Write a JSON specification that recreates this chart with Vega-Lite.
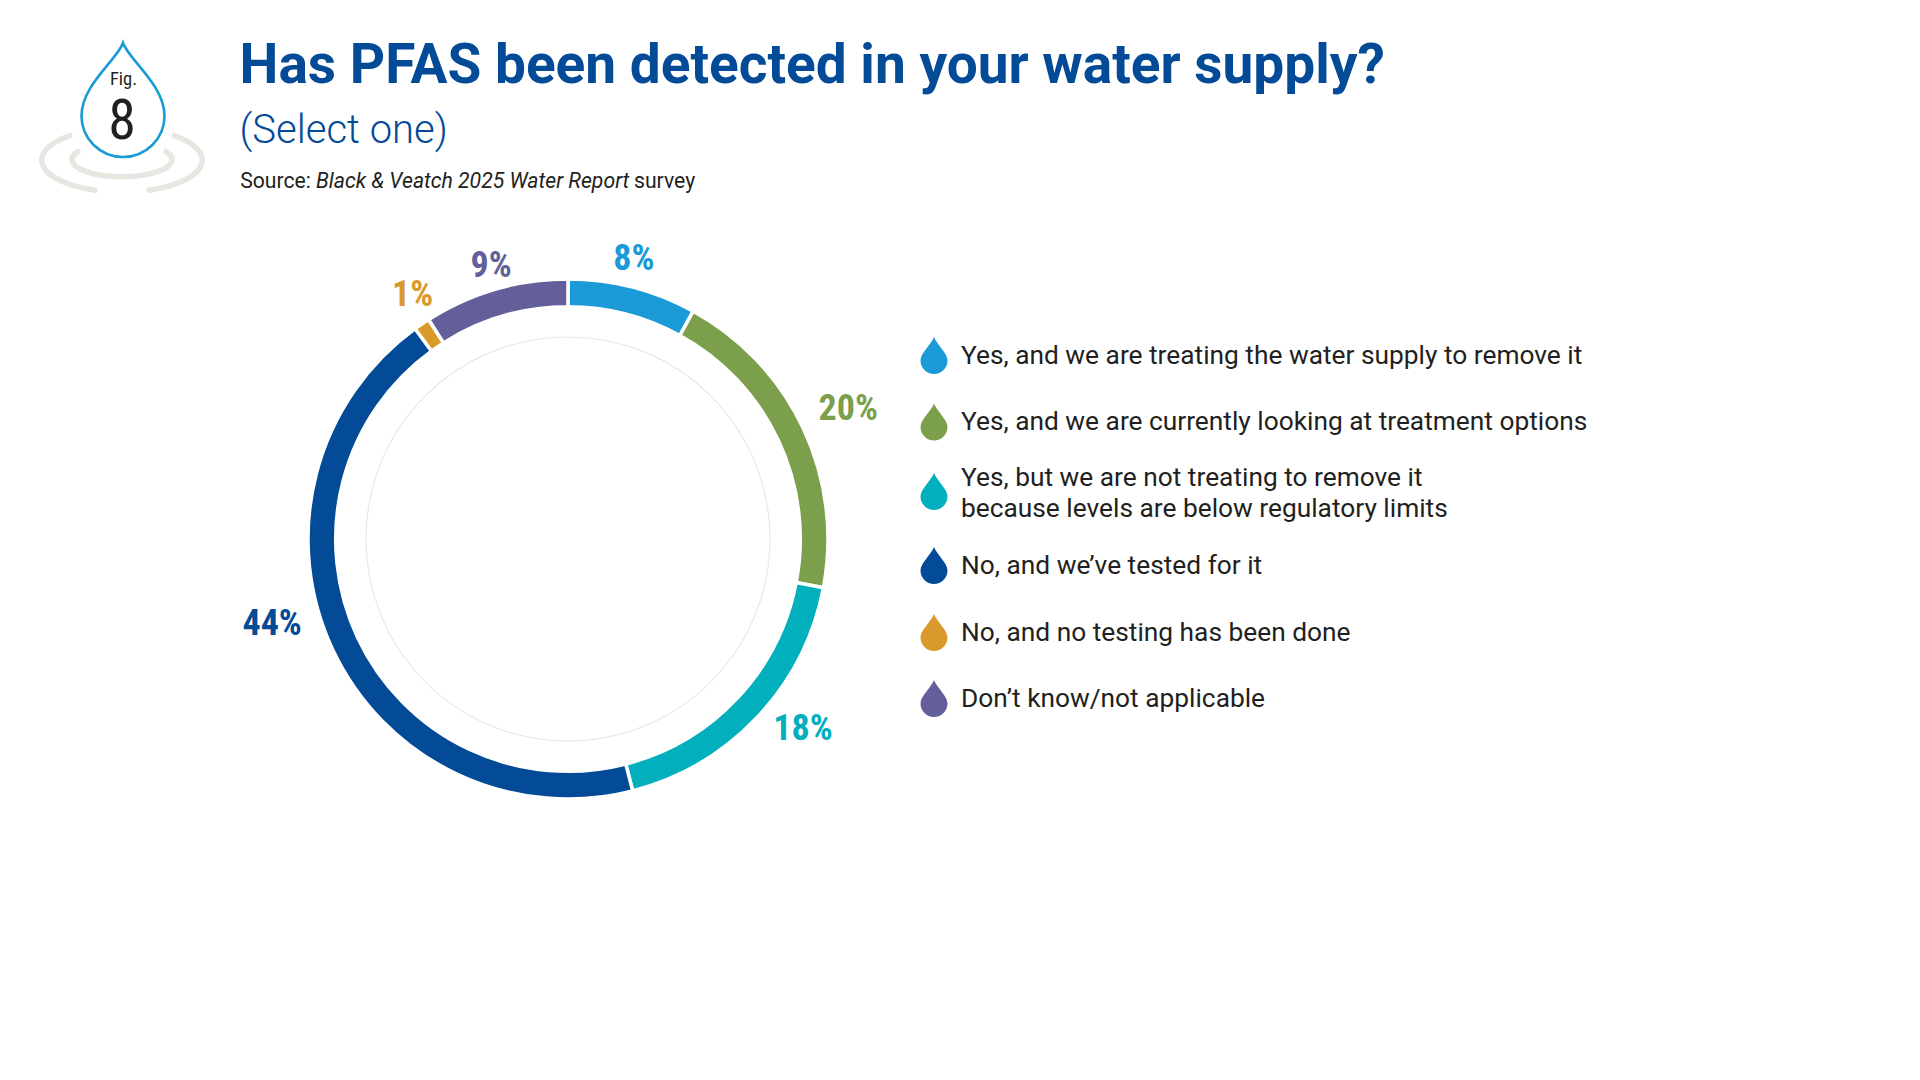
{
  "$schema": "https://vega.github.io/schema/vega-lite/v6.json",
  "width": 1136,
  "height": 1078,
  "autosize": "none",
  "padding": {"left": 0, "top": 0, "right": 784, "bottom": 2},
  "background": "white",
  "config": {"view": {"stroke": null}},
  "title": {
    "text": "Has PFAS been detected in your water supply?",
    "subtitle": "(Select one)",
    "anchor": "start",
    "frame": "group",
    "dx": 239.6,
    "dy": 156,
    "font": "Roboto",
    "fontSize": 55,
    "fontWeight": 700,
    "color": "#034a97",
    "subtitleFont": "Roboto",
    "subtitleFontSize": 40,
    "subtitleFontWeight": 300,
    "subtitleColor": "#034a97",
    "subtitlePadding": 16
  },
  "datasets": {
    "answers": [
      {"row": 1, "answer": "Yes, and we are treating the water supply to remove it", "pct": 8, "label": "8%"},
      {"row": 2, "answer": "Yes, and we are currently looking at treatment options", "pct": 20, "label": "20%"},
      {"row": 3, "answer": "Yes, but we are not treating to remove it\nbecause levels are below regulatory limits", "pct": 18, "label": "18%"},
      {"row": 4, "answer": "No, and we’ve tested for it", "pct": 44, "label": "44%"},
      {"row": 5, "answer": "No, and no testing has been done", "pct": 1, "label": "1%"},
      {"row": 6, "answer": "Don’t know/not applicable", "pct": 9, "label": "9%"}
    ],
    "one": [{"part": "annotation"}]
  },
  "data": {"name": "answers"},
  "transform": [{"stack": "pct", "groupby": [], "as": ["pct_start", "pct_end"]}],
  "resolve": {"scale": {"y": "independent"}},
  "layer": [
    {
      "data": {"name": "one"},
      "mark": {"type": "arc", "radius": 202, "radius2": 202, "theta": 0, "theta2": 6.2832, "stroke": "#e8e8e8", "strokeWidth": 1.2, "fill": null}
    },
    {
      "mark": {"type": "arc", "radius": 260, "radius2": 232.3, "stroke": "white", "strokeWidth": 3.5},
      "encoding": {
        "theta": {"field": "pct_start", "type": "quantitative", "scale": {"domain": [0, 100], "range": [0, 6.28319]}},
        "theta2": {"field": "pct_end"},
        "color": {
          "field": "answer",
          "type": "nominal",
          "sort": null,
          "legend": null,
          "scale": {
            "domain": [
              "Yes, and we are treating the water supply to remove it",
              "Yes, and we are currently looking at treatment options",
              "Yes, but we are not treating to remove it\nbecause levels are below regulatory limits",
              "No, and we’ve tested for it",
              "No, and no testing has been done",
              "Don’t know/not applicable"
            ],
            "range": ["#1a9ad6", "#7c9f4c", "#02afbd", "#034a97", "#d99a2b", "#625f9b"]
          }
        }
      }
    },
    {
      "mark": {
        "type": "point",
        "filled": true,
        "size": 4,
        "opacity": 1,
        "shape": "M0,-18.5 C-2,-12 -13.5,-2.5 -13.5,5 A13.5,13.5 0 0 0 13.5,5 C13.5,-2.5 2,-12 0,-18.5 Z"
      },
      "encoding": {
        "x": {"datum": 934, "type": "quantitative", "scale": {"domain": [0, 1136], "range": [0, 1136], "nice": false, "zero": false}, "axis": null},
        "y": {"field": "row", "type": "quantitative", "scale": {"domain": [1, 2, 3, 4, 5, 6], "range": [355.5, 422, 491.5, 565.5, 632.5, 698.5], "nice": false, "zero": false}, "axis": null},
        "color": {"field": "answer", "type": "nominal", "legend": null}
      }
    },
    {
      "mark": {"type": "text", "font": "Roboto", "fontSize": 26.3, "lineBreak": "\n", "lineHeight": 31, "color": "#231f20", "align": "left", "baseline": "middle"},
      "encoding": {
        "x": {"datum": 961, "type": "quantitative", "axis": null},
        "y": {"field": "row", "type": "quantitative", "scale": {"domain": [1, 2, 3, 4, 5, 6], "range": [355.5, 422, 477.5, 565.5, 632.5, 698.5], "nice": false, "zero": false}, "axis": null},
        "text": {"field": "answer"}
      }
    },
    {
      "layer": [
        {
          "transform": [{"filter": "datum.pct === 8"}],
          "mark": {"type": "text", "radius": 288.6, "thetaOffset": 0.2304, "dy": 1, "font": "Roboto Condensed", "fontWeight": 700, "fontSize": 36, "align": "center", "baseline": "middle"},
          "encoding": {
            "theta": {"field": "pct_start", "type": "quantitative", "scale": {"domain": [0, 100], "range": [0, 6.28319]}},
            "text": {"field": "label"},
            "color": {"field": "answer", "type": "nominal", "legend": null}
          }
        },
        {
          "transform": [{"filter": "datum.pct === 20"}],
          "mark": {"type": "text", "radius": 309.5, "thetaOffset": 0.63, "dy": 1, "font": "Roboto Condensed", "fontWeight": 700, "fontSize": 36, "align": "center", "baseline": "middle"},
          "encoding": {
            "theta": {"field": "pct_start", "type": "quantitative", "scale": {"domain": [0, 100], "range": [0, 6.28319]}},
            "text": {"field": "label"},
            "color": {"field": "answer", "type": "nominal", "legend": null}
          }
        },
        {
          "transform": [{"filter": "datum.pct === 18"}],
          "mark": {"type": "text", "radius": 301.6, "thetaOffset": 0.489, "dy": 1, "font": "Roboto Condensed", "fontWeight": 700, "fontSize": 36, "align": "center", "baseline": "middle"},
          "encoding": {
            "theta": {"field": "pct_start", "type": "quantitative", "scale": {"domain": [0, 100], "range": [0, 6.28319]}},
            "text": {"field": "label"},
            "color": {"field": "answer", "type": "nominal", "legend": null}
          }
        },
        {
          "transform": [{"filter": "datum.pct === 44"}],
          "mark": {"type": "text", "radius": 307.5, "thetaOffset": 1.546, "dy": 1, "font": "Roboto Condensed", "fontWeight": 700, "fontSize": 36, "align": "center", "baseline": "middle"},
          "encoding": {
            "theta": {"field": "pct_start", "type": "quantitative", "scale": {"domain": [0, 100], "range": [0, 6.28319]}},
            "text": {"field": "label"},
            "color": {"field": "answer", "type": "nominal", "legend": null}
          }
        },
        {
          "transform": [{"filter": "datum.pct === 1"}],
          "mark": {"type": "text", "radius": 290, "thetaOffset": 0.0629, "dy": 1, "font": "Roboto Condensed", "fontWeight": 700, "fontSize": 36, "align": "center", "baseline": "middle"},
          "encoding": {
            "theta": {"field": "pct_start", "type": "quantitative", "scale": {"domain": [0, 100], "range": [0, 6.28319]}},
            "text": {"field": "label"},
            "color": {"field": "answer", "type": "nominal", "legend": null}
          }
        },
        {
          "transform": [{"filter": "datum.pct === 9"}],
          "mark": {"type": "text", "radius": 285, "thetaOffset": 0.292, "dy": 1, "font": "Roboto Condensed", "fontWeight": 700, "fontSize": 36, "align": "center", "baseline": "middle"},
          "encoding": {
            "theta": {"field": "pct_start", "type": "quantitative", "scale": {"domain": [0, 100], "range": [0, 6.28319]}},
            "text": {"field": "label"},
            "color": {"field": "answer", "type": "nominal", "legend": null}
          }
        }
      ]
    },
    {
      "layer": [
        {
          "data": {"values": [{"text": "Source:"}]},
          "mark": {"type": "text", "font": "Roboto", "fontSize": 21.2, "color": "#231f20", "align": "left", "baseline": "alphabetic"},
          "encoding": {
            "x": {"datum": 240.2, "type": "quantitative", "axis": null},
            "y": {"datum": 187.5, "type": "quantitative", "scale": {"domain": [0, 1078], "range": [0, 1078], "nice": false, "zero": false}, "axis": null},
            "text": {"field": "text"}
          }
        },
        {
          "data": {"values": [{"text": "Black & Veatch 2025 Water Report"}]},
          "mark": {"type": "text", "font": "Roboto", "fontStyle": "italic", "fontSize": 21.2, "color": "#231f20", "align": "left", "baseline": "alphabetic"},
          "encoding": {
            "x": {"datum": 316, "type": "quantitative", "axis": null},
            "y": {"datum": 187.5, "type": "quantitative", "axis": null},
            "text": {"field": "text"}
          }
        },
        {
          "data": {"values": [{"text": "survey"}]},
          "mark": {"type": "text", "font": "Roboto", "fontSize": 21.2, "color": "#231f20", "align": "left", "baseline": "alphabetic"},
          "encoding": {
            "x": {"datum": 634, "type": "quantitative", "axis": null},
            "y": {"datum": 187.5, "type": "quantitative", "axis": null},
            "text": {"field": "text"}
          }
        },
        {
          "data": {"name": "one"},
          "mark": {
            "type": "point",
            "filled": false,
            "size": 4,
            "opacity": 1,
            "stroke": "#e8e6e0",
            "strokeWidth": 5.5,
            "strokeCap": "round",
            "shape": "M-52,-24.4 A80,32 0 0 0 -27,30.2 M52,-24.4 A80,32 0 0 1 27,30.2 M-44,-8.4 A50,17 0 1 0 44,-8.4"
          },
          "encoding": {
            "x": {"datum": 122, "type": "quantitative", "axis": null},
            "y": {"datum": 160, "type": "quantitative", "axis": null}
          }
        },
        {
          "data": {"name": "one"},
          "mark": {
            "type": "point",
            "filled": true,
            "size": 4,
            "opacity": 1,
            "fill": "white",
            "stroke": "#1a9ad6",
            "strokeWidth": 2.6,
            "shape": "M0,-57 C-6,-40 -41.5,-15 -41.5,16 A41.5,41 0 0 0 41.5,16 C41.5,-15 6,-40 0,-57 Z"
          },
          "encoding": {
            "x": {"datum": 123, "type": "quantitative", "axis": null},
            "y": {"datum": 100, "type": "quantitative", "axis": null}
          }
        },
        {
          "data": {"values": [{"text": "Fig."}]},
          "mark": {"type": "text", "font": "Roboto Condensed", "fontSize": 18.5, "color": "#231f20", "align": "center", "baseline": "middle"},
          "encoding": {
            "x": {"datum": 123.5, "type": "quantitative", "axis": null},
            "y": {"datum": 78.5, "type": "quantitative", "axis": null},
            "text": {"field": "text"}
          }
        },
        {
          "data": {"values": [{"text": "8"}]},
          "mark": {"type": "text", "font": "Roboto Condensed", "fontSize": 56, "color": "#231f20", "align": "center", "baseline": "middle"},
          "encoding": {
            "x": {"datum": 122, "type": "quantitative", "axis": null},
            "y": {"datum": 122, "type": "quantitative", "axis": null},
            "text": {"field": "text"}
          }
        }
      ]
    }
  ]
}
